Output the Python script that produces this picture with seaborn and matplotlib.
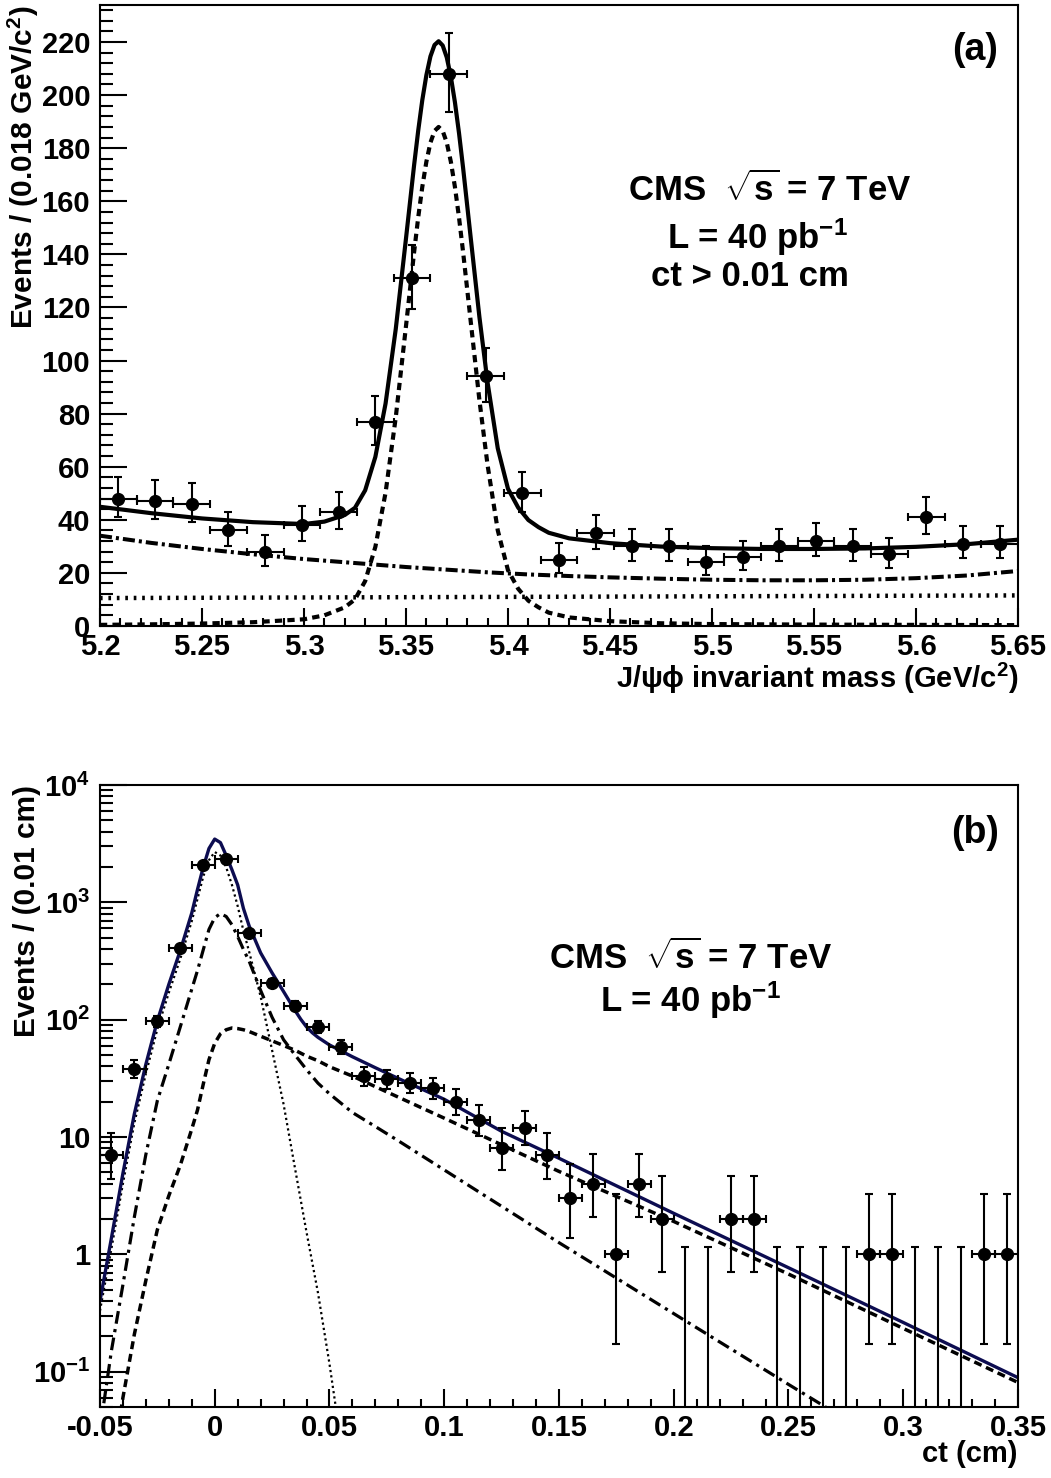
import numpy as np
import matplotlib
matplotlib.use("Agg")
import matplotlib.pyplot as plt
import seaborn as sns
from matplotlib.ticker import (MultipleLocator, FuncFormatter, FixedLocator,
                               FixedFormatter, LogLocator, NullFormatter)

# ---- panel (a): J/psi phi invariant mass, 0.018 GeV/c^2 bins ----
mass_centers = [5.209, 5.227, 5.245, 5.263, 5.281, 5.299, 5.317, 5.335, 5.353,
                5.371, 5.389, 5.407, 5.425, 5.443, 5.461, 5.479, 5.497, 5.515,
                5.533, 5.551, 5.569, 5.587, 5.605, 5.623, 5.641]
mass_counts = [48, 47, 46, 36, 28, 38, 43, 77, 131, 208, 94, 50, 25, 35, 30,
               30, 24, 26, 30, 32, 30, 27, 41, 31, 31]

mass_curve_x = [5.200, 5.225, 5.250, 5.275, 5.300, 5.310, 5.320, 5.325, 5.330,
                5.335, 5.340, 5.345, 5.350, 5.354, 5.356, 5.358, 5.360, 5.362,
                5.364, 5.366, 5.368, 5.370, 5.372, 5.374, 5.376, 5.378, 5.382,
                5.386, 5.390, 5.395, 5.400, 5.405, 5.410, 5.415, 5.420, 5.430,
                5.450, 5.475, 5.500, 5.525, 5.550, 5.575, 5.600, 5.625, 5.650]
mass_total = [44.9, 42.5, 40.5, 39.1, 38.4, 39.3, 41.8, 44.5, 51.1, 63.7, 83.8,
              111.9, 145.9, 173.7, 186.6, 198.1, 207.5, 214.6, 218.9, 220.3,
              218.7, 214.2, 206.9, 197.3, 185.7, 172.6, 144.4, 116.4, 91.7,
              66.9, 51.7, 44.6, 39.9, 37.2, 35.1, 33.0, 31.2, 29.9, 29.3, 29.0,
              29.0, 29.2, 29.8, 30.8, 32.5]
mass_signal = [0.4, 0.6, 0.9, 1.4, 2.5, 4.0, 7.0, 10.0, 16.9, 29.8, 50.2, 78.6,
               112.9, 140.9, 153.9, 165.4, 174.9, 182.1, 186.5, 188.0, 186.5,
               182.1, 174.9, 165.4, 153.9, 140.9, 112.9, 85.1, 60.6, 36.0,
               21.0, 14.0, 9.5, 7.0, 5.0, 3.2, 1.8, 1.0, 0.7, 0.6, 0.5, 0.45,
               0.4, 0.35, 0.3]
mass_bkg_nonprompt = [34.0, 31.3, 29.0, 27.0, 25.2, 24.6, 24.0, 23.7, 23.4,
                      23.1, 22.8, 22.5, 22.2, 22.0, 21.9, 21.8, 21.7, 21.6,
                      21.5, 21.4, 21.3, 21.2, 21.1, 21.0, 20.9, 20.8, 20.6,
                      20.4, 20.2, 20.0, 19.8, 19.6, 19.4, 19.25, 19.1, 18.8,
                      18.3, 17.8, 17.4, 17.2, 17.2, 17.4, 18.0, 19.0, 20.7]
mass_bkg_flat_x = [5.2, 5.65]
mass_bkg_flat = [10.5, 11.5]

# ---- panel (b): proper decay length ct, 0.01 cm bins ----
ct_centers = [-0.045, -0.035, -0.025, -0.015, -0.005, 0.005, 0.015, 0.025,
              0.035, 0.045, 0.055, 0.065, 0.075, 0.085, 0.095, 0.105, 0.115,
              0.125, 0.135, 0.145, 0.155, 0.165, 0.175, 0.185, 0.195, 0.205,
              0.215, 0.225, 0.235, 0.245, 0.255, 0.265, 0.275, 0.285, 0.295,
              0.305, 0.315, 0.325, 0.335, 0.345]
ct_counts = [7, 38, 97, 407, 2085, 2333, 553, 207, 132, 87, 59, 33, 31, 29,
             26, 20, 14, 8, 12, 7, 3, 4, 1, 4, 2, 0, 0, 2, 2, 0, 0, 0, 0, 1, 1,
             0, 0, 0, 1, 1]

ct_total_x = [-0.05, -0.045, -0.04, -0.035, -0.03, -0.025, -0.02, -0.015,
              -0.01, -0.0075, -0.005, -0.0025, 0.0, 0.0025, 0.005, 0.0075,
              0.01, 0.0125, 0.015, 0.02, 0.025, 0.03, 0.035, 0.0375, 0.04,
              0.0425, 0.045, 0.05, 0.06, 0.07, 0.08, 0.1, 0.125, 0.15, 0.2,
              0.25, 0.3, 0.35]
ct_total = [0.40, 1.38, 4.9, 15.8, 41.7, 97.7, 200, 389, 813, 1290, 1995,
            2884, 3467, 3236, 2512, 1900, 1413, 891, 631, 372, 251, 174, 120,
            101, 87, 77.6, 70.8, 61, 48.4, 39, 31.6, 21.0, 11.2, 6.6, 2.24,
            0.77, 0.263, 0.089]

ct_prompt_x = [-0.05, -0.045, -0.04, -0.035, -0.03, -0.025, -0.02, -0.015,
               -0.01, -0.0075, -0.005, -0.0025, 0.0, 0.0025, 0.005, 0.0075,
               0.01, 0.0125, 0.015, 0.02, 0.025, 0.03, 0.035, 0.04, 0.045,
               0.05, 0.055]
ct_prompt = [0.33, 1.12, 4.0, 13.2, 34.7, 83, 170, 331, 692, 1072, 1660, 2291,
             2692, 2512, 1995, 1413, 933, 575, 380, 158, 55, 19.1, 5.4, 1.55,
             0.47, 0.117, 0.025]

ct_nonprompt_x = [-0.05, -0.045, -0.04, -0.035, -0.03, -0.025, -0.02, -0.015,
                  -0.01, -0.0075, -0.005, -0.0025, 0.0, 0.0025, 0.005, 0.0075,
                  0.01, 0.0125, 0.015, 0.02, 0.025, 0.03, 0.035, 0.04, 0.045,
                  0.05, 0.06, 0.07, 0.08, 0.1, 0.125, 0.15, 0.2, 0.25, 0.27]
ct_nonprompt = [0.032, 0.151, 0.55, 2.09, 7.1, 20.4, 41.7, 87, 182, 263, 394,
                589, 741, 804, 759, 646, 513, 398, 316, 178, 105, 67.6, 50.1,
                37.6, 28.8, 23.4, 16.2, 12.3, 9.3, 5.25, 2.57, 1.26, 0.313,
                0.078, 0.045]

ct_signal_x = [-0.041, -0.04, -0.035, -0.03, -0.025, -0.02, -0.015, -0.01,
               -0.0075, -0.005, -0.0025, 0.0, 0.0025, 0.005, 0.0075, 0.01,
               0.0125, 0.015, 0.02, 0.025, 0.03, 0.035, 0.04, 0.045, 0.05,
               0.06, 0.07, 0.08, 0.1, 0.125, 0.15, 0.2, 0.25, 0.3, 0.35]
ct_signal = [0.045, 0.060, 0.209, 0.60, 1.62, 3.16, 5.75, 11.7, 17.0, 28.2,
             45.7, 63, 75.9, 82.2, 85.1, 84.1, 82.2, 79.4, 72.4, 66.1, 60.3,
             55.0, 49.0, 44.7, 39.8, 33.1, 26.9, 21.9, 14.5, 8.6, 5.1, 1.91,
             0.68, 0.234, 0.081]

ct_yticks = [0.1, 1, 10, 100, 1000, 10000]
ct_yticklabels = ["$10^{-1}$", "1", "10", "$10^{2}$", "$10^{3}$", "$10^{4}$"]


def poisson_interval(n, tail=0.15865):
    # central Poisson interval, one-sided 68% for empty bins (RooFit style)
    if n == 0:
        return 0.0, -np.log(2 * tail)
    logfact = np.concatenate([[0.0], np.cumsum(np.log(np.arange(1, n + 1)))])
    k = np.arange(n + 1)

    def cdf(mu, upto):
        return np.exp(k[:upto + 1] * np.log(mu) - mu - logfact[:upto + 1]).sum()

    def solve(f, a, b):
        for _ in range(80):
            m = 0.5 * (a + b)
            if f(a) * f(m) <= 0:
                b = m
            else:
                a = m
        return 0.5 * (a + b)

    lo = solve(lambda mu: 1 - cdf(mu, n - 1) - tail, 1e-9, float(n))
    hi = solve(lambda mu: cdf(mu, n) - tail, float(n), n + 10 * np.sqrt(n) + 10)
    return lo, hi


def errors(counts):
    counts = np.asarray(counts, dtype=float)
    lows, highs = zip(*[poisson_interval(int(c)) for c in counts])
    return np.vstack([counts - np.array(lows), np.array(highs) - counts])


sns.set_theme(style="ticks", rc={
    "axes.edgecolor": "black",
    "axes.linewidth": 1.5,
    "text.color": "black",
    "axes.labelcolor": "black",
    "xtick.color": "black",
    "ytick.color": "black",
})
plt.rcParams["font.family"] = ["Liberation Sans", "DejaVu Sans"]
plt.rcParams.update({
    "font.weight": "bold",
    "axes.labelweight": "bold",
    "mathtext.fontset": "custom",
    "mathtext.rm": "Liberation Sans:bold",
    "mathtext.it": "Liberation Sans:bold:italic",
    "mathtext.bf": "Liberation Sans:bold",
    "mathtext.sf": "Liberation Sans:bold",
    "mathtext.default": "regular",
})

fig = plt.figure(figsize=(10.51, 14.78), dpi=100)
ax1 = fig.add_axes([0.0951, 0.5765, 0.8735, 0.4202])
ax2 = fig.add_axes([0.0951, 0.0480, 0.8735, 0.4208])

clean = FuncFormatter(lambda v, p: f"{round(v, 3) + 0.0:g}")


def style_axes(ax, ylen):
    for side in ax.spines.values():
        side.set_linewidth(1.5)
    ax.tick_params(which="both", direction="in", width=1.5, top=False,
                   right=False, labelsize=21, colors="black")
    ax.tick_params(axis="x", which="major", length=13, pad=5)
    ax.tick_params(axis="x", which="minor", length=6)
    ax.tick_params(axis="y", which="major", length=ylen, pad=7)
    ax.tick_params(axis="y", which="minor", length=9)


# ---- (a) ----
sns.lineplot(x=mass_curve_x, y=mass_total, ax=ax1, color="black", linewidth=3,
             sort=False, errorbar=None)
sns.lineplot(x=mass_curve_x, y=mass_signal, ax=ax1, color="black",
             linewidth=3, linestyle=(0, (1.75, 1.25)), sort=False,
             errorbar=None)
sns.lineplot(x=mass_curve_x, y=mass_bkg_nonprompt, ax=ax1, color="black",
             linewidth=2.9, linestyle=(0, (3.0, 1.0, 0.75, 1.0)), sort=False,
             errorbar=None)
sns.lineplot(x=mass_bkg_flat_x, y=mass_bkg_flat, ax=ax1, color="black",
             linewidth=3.2, linestyle=(0, (0.6, 1.3)), sort=False,
             errorbar=None)
ax1.errorbar(mass_centers, mass_counts, xerr=0.009, yerr=errors(mass_counts),
             fmt="o", color="black", markersize=8.5, elinewidth=1.5,
             capsize=3, capthick=1.5, zorder=3)

ax1.set_xlim(5.2, 5.65)
ax1.set_ylim(0, 234)
ax1.xaxis.set_major_locator(MultipleLocator(0.05))
ax1.xaxis.set_minor_locator(MultipleLocator(0.01))
ax1.xaxis.set_major_formatter(clean)
ax1.yaxis.set_major_locator(MultipleLocator(20))
ax1.yaxis.set_minor_locator(MultipleLocator(4))
style_axes(ax1, 19.5)
ax1.set_xlabel(r"J/$\psi\phi$ invariant mass (GeV/c$^{2}$)", fontsize=21,
               loc="right")
ax1.xaxis.set_label_coords(1.0, -0.056)
ax1.xaxis.label.set_va("top")
ax1.set_ylabel("Events / (0.018 GeV/c$^{2}$)", fontsize=21.5, loc="top")
ax1.yaxis.set_label_coords(-0.064, 1.0)

ax1.text(0.953, 0.928, "(a)", transform=ax1.transAxes, fontsize=27,
         ha="center", va="center")
ax1.text(0.729, 0.702, r"CMS  $\sqrt{s}$ = 7 TeV", transform=ax1.transAxes,
         fontsize=25, ha="center", va="center")
ax1.text(0.716, 0.626, "L = 40 pb$^{-1}$", transform=ax1.transAxes,
         fontsize=25, ha="center", va="center")
ax1.text(0.708, 0.562, "ct > 0.01 cm", transform=ax1.transAxes, fontsize=25,
         ha="center", va="center")

# ---- (b) ----
ax2.set_yscale("log")
ax2.set_xlim(-0.05, 0.35)
ax2.set_ylim(0.05, 1e4)
sns.lineplot(x=ct_prompt_x, y=ct_prompt, ax=ax2, color="black",
             linewidth=1.6, linestyle=(0, (1.0, 1.4)), sort=False,
             errorbar=None)
sns.lineplot(x=ct_nonprompt_x, y=ct_nonprompt, ax=ax2, color="black",
             linewidth=2.3, linestyle=(0, (4.0, 1.7, 1.0, 1.7)), sort=False,
             errorbar=None)
sns.lineplot(x=ct_signal_x, y=ct_signal, ax=ax2, color="black",
             linewidth=2.5, linestyle=(0, (2.3, 1.4)), sort=False,
             errorbar=None)
sns.lineplot(x=ct_total_x, y=ct_total, ax=ax2, color="#0c0c50",
             linewidth=2.4, sort=False, errorbar=None)
ax2.errorbar(ct_centers, ct_counts, xerr=0.005, yerr=errors(ct_counts),
             fmt="o", color="black", markersize=8.5, elinewidth=1.5,
             capsize=3, capthick=1.5, zorder=3)

ax2.xaxis.set_major_locator(MultipleLocator(0.05))
ax2.xaxis.set_minor_locator(MultipleLocator(0.01))
ax2.xaxis.set_major_formatter(clean)
ax2.yaxis.set_major_locator(FixedLocator(ct_yticks))
ax2.yaxis.set_major_formatter(FixedFormatter(ct_yticklabels))
ax2.yaxis.set_minor_locator(LogLocator(base=10, subs=np.arange(2, 10)))
ax2.yaxis.set_minor_formatter(NullFormatter())
style_axes(ax2, 19.5)
ax2.set_xlabel("ct (cm)", fontsize=21, loc="right")
ax2.xaxis.set_label_coords(1.0, -0.053)
ax2.xaxis.label.set_va("top")
ax2.set_ylabel("Events / (0.01 cm)", fontsize=21.5, loc="top")
ax2.yaxis.set_label_coords(-0.064, 1.0)

ax2.text(0.953, 0.923, "(b)", transform=ax2.transAxes, fontsize=27,
         ha="center", va="center")
ax2.text(0.643, 0.722, r"CMS  $\sqrt{s}$ = 7 TeV", transform=ax2.transAxes,
         fontsize=25, ha="center", va="center")
ax2.text(0.643, 0.654, "L = 40 pb$^{-1}$", transform=ax2.transAxes,
         fontsize=25, ha="center", va="center")

fig.savefig("out.png", dpi=100)
